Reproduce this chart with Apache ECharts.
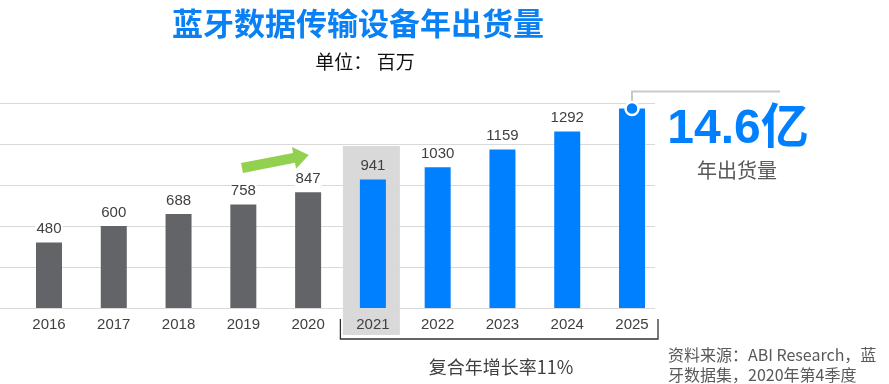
<!DOCTYPE html>
<html>
<head>
<meta charset="utf-8">
<script src="https://cdn.jsdelivr.net/npm/echarts@6/dist/echarts.min.js"></script>
<style>
html,body{margin:0;padding:0;background:#fff;}
#chart{width:889px;height:384px;}
</style>
</head>
<body>
<div id="chart"></div>
<script>
// ---- data ----
var years = ['2016','2017','2018','2019','2020','2021','2022','2023','2024','2025'];
var shipments = [480, 600, 688, 758, 847, 941, 1030, 1159, 1292, 1460];
var yTicks = [0, 300, 600, 900, 1200, 1500];
var lastActualYear = '2020';
var highlightYear = '2021';
var totalLabel = '14.6亿';
var totalSub = '年出货量';
var cagrText = '复合年增长率11%';
var titleText = '蓝牙数据传输设备年出货量';
var unitText = '单位： 百万';
var sourceLines = ['资料来源：ABI Research，蓝', '牙数据集，2020年第4季度'];

var GRAY = '#636467', BLUE = '#0080ff', TXT = '#404040';
var CJK = '"Noto Sans CJK SC","Microsoft YaHei",sans-serif';
var LAT = '"Liberation Sans",Arial,"Noto Sans CJK SC",sans-serif';

var chart = echarts.init(document.getElementById('chart'), null, {renderer: 'canvas'});

var lastActualIdx = years.indexOf(lastActualYear);
var lastIdx = years.length - 1;
var barData = shipments.map(function (v, i) {
  if (years[i] === highlightYear) {
    return {value: v, label: {backgroundColor: 'transparent'}};
  }
  if (i === lastIdx) {
    return {value: v, label: {show: false}};
  }
  return v;
});

var option = {
  animation: false,
  backgroundColor: '#fff',
  grid: [
    {left: 0, right: 234, top: 103, bottom: 76},
    {left: 16.6, right: 224.6, top: 103, bottom: 76}
  ],
  xAxis: [
    {gridIndex: 0, type: 'value', min: 0, max: 1, show: false},
    {
      gridIndex: 1, type: 'category', data: years, z: 5,
      axisLine: {show: false}, axisTick: {show: false},
      axisLabel: {fontSize: 15, color: TXT, margin: 9, fontFamily: LAT}
    }
  ],
  yAxis: [
    {
      gridIndex: 0, type: 'value', min: yTicks[0], max: yTicks[yTicks.length - 1],
      interval: yTicks[1] - yTicks[0],
      axisLine: {show: false}, axisTick: {show: false}, axisLabel: {show: false},
      splitLine: {show: true, lineStyle: {color: '#d9d9d9', width: 1}}
    },
    {
      gridIndex: 1, type: 'value', min: yTicks[0], max: yTicks[yTicks.length - 1],
      interval: yTicks[1] - yTicks[0], show: false, splitLine: {show: false}
    }
  ],
  series: [
    {
      type: 'bar', xAxisIndex: 1, yAxisIndex: 1, z: 3,
      data: barData, barWidth: 26,
      itemStyle: {
        color: function (p) { return p.dataIndex <= lastActualIdx ? GRAY : BLUE; }
      },
      label: {
        show: true, position: 'top', distance: 6,
        fontSize: 15, color: TXT, fontFamily: LAT,
        backgroundColor: '#fff', padding: [0, 1]
      },
      markPoint: {
        symbol: 'circle', symbolSize: 13, z: 6,
        itemStyle: {color: BLUE, borderColor: '#fff', borderWidth: 2.5},
        label: {show: false},
        data: [{coord: [years[lastIdx], shipments[lastIdx]]}]
      }
    }
  ]
};
chart.setOption(option);

function px(year, val) {
  return chart.convertToPixel({xAxisIndex: 1, yAxisIndex: 1}, [year, val]);
}
var hl = px(highlightYear, 0);
var last = px(years[lastIdx], shipments[lastIdx]);
var base = hl[1];

chart.setOption({
  graphic: [
    // highlight box behind 2021
    {type: 'rect', z: 1, silent: true,
     shape: {x: hl[0] - 30, y: 146, width: 57, height: base + 27 - 146},
     style: {fill: '#d9d9d9'}},
    // bracket under forecast years
    {type: 'polyline', z: 4, silent: true,
     shape: {points: [[hl[0] - 32.5, base + 11], [hl[0] - 32.5, base + 31], [last[0] + 26, base + 31], [last[0] + 26, base + 11]]},
     style: {stroke: '#333', lineWidth: 1.3, fill: null}},
    // connector from 2025 top
    {type: 'polyline', z: 4, silent: true,
     shape: {points: [[last[0], last[1] - 6], [last[0], last[1] - 17], [780, last[1] - 17]]},
     style: {stroke: '#c9c9c9', lineWidth: 2, fill: null}},
    // green arrow
    {type: 'polygon', z: 4, silent: true, x: 242, y: 168, rotation: 11 * Math.PI / 180,
     shape: {points: [[0, -5], [53, -5], [53, -11], [68, 0], [53, 11], [53, 5], [0, 5]]},
     style: {fill: '#92d050'}},
    // title & subtitle
    {type: 'text', z: 10, x: 358, y: 23,
     style: {text: titleText, font: 'bold 31px ' + CJK, fill: '#0a80f5', textAlign: 'center', textVerticalAlign: 'middle', verticalAlign: 'middle'}},
    {type: 'text', z: 10, x: 365, y: 62,
     style: {text: unitText, font: '19px ' + CJK, fill: '#111', textAlign: 'center', textVerticalAlign: 'middle', verticalAlign: 'middle'}},
    // big total
    {type: 'text', z: 10, x: 738, y: 130,
     style: {text: totalLabel, font: 'bold 48px ' + LAT, fill: BLUE, textAlign: 'center', textVerticalAlign: 'middle', verticalAlign: 'middle'}},
    {type: 'text', z: 10, x: 737, y: 170,
     style: {text: totalSub, font: '20px ' + CJK, fill: '#595959', textAlign: 'center', textVerticalAlign: 'middle', verticalAlign: 'middle'}},
    // CAGR
    {type: 'text', z: 10, x: 501, y: 367,
     style: {text: cagrText, font: '18px ' + CJK, fill: TXT, textAlign: 'center', textVerticalAlign: 'middle', verticalAlign: 'middle'}},
    // source
    {type: 'text', z: 10, x: 668, y: 355,
     style: {text: sourceLines[0], font: '16px ' + CJK, fill: '#595959', textAlign: 'left', textVerticalAlign: 'middle', verticalAlign: 'middle'}},
    {type: 'text', z: 10, x: 668, y: 375,
     style: {text: sourceLines[1], font: '16px ' + CJK, fill: '#595959', textAlign: 'left', textVerticalAlign: 'middle', verticalAlign: 'middle'}}
  ]
});
</script>
</body>
</html>
